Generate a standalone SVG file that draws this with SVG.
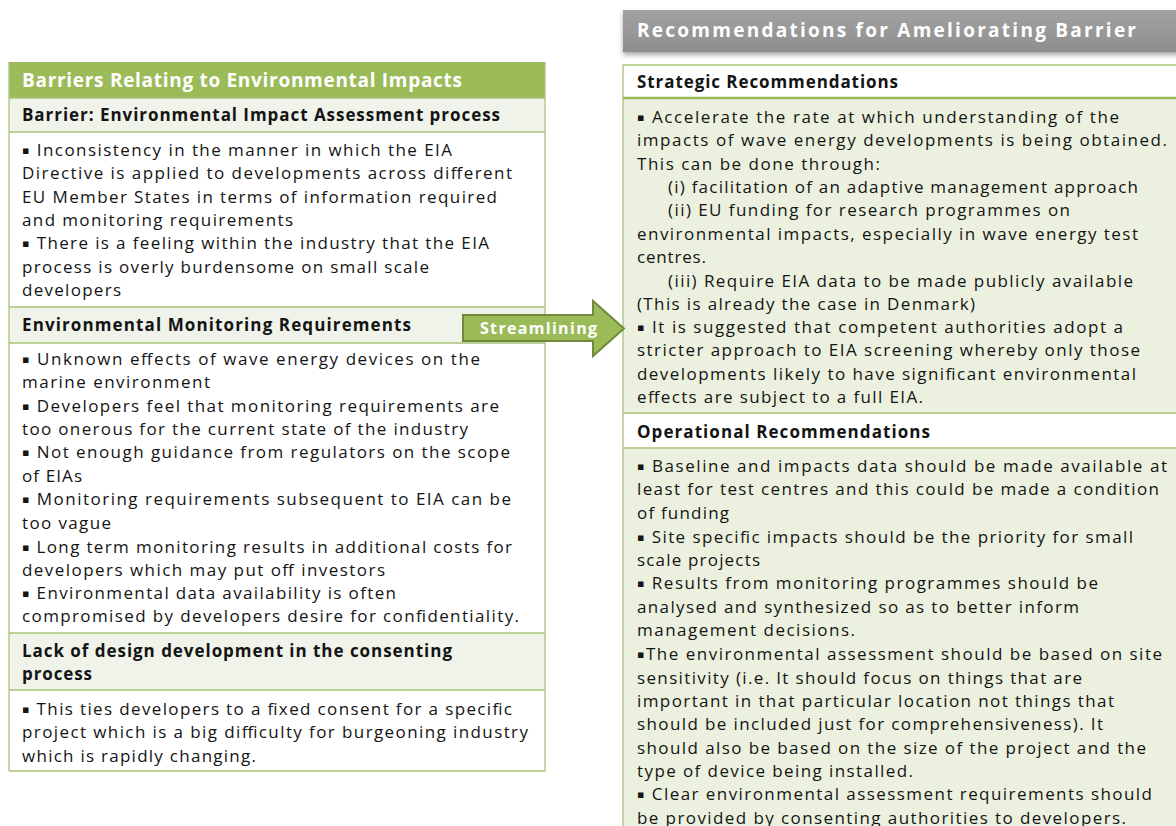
<svg xmlns="http://www.w3.org/2000/svg" width="1176" height="826" viewBox="0 0 1176 826">
<defs>
<style>
.t{font-family:"Open Sans","DejaVu Sans",sans-serif;font-size:17px;fill:#141414}
.b{font-weight:bold}
.u{font-size:11px;baseline-shift:2px}
.h{font-family:"Open Sans","DejaVu Sans",sans-serif;font-size:19px;font-weight:bold;fill:#ffffff}
.ln{stroke:#a9c47a;stroke-width:1.3;fill:none}
.sub{fill:#eff3ea}
.rb{fill:#ebf1de}
</style>
<filter id="sh" x="-5%" y="-30%" width="110%" height="170%">
<feDropShadow dx="0" dy="3" stdDeviation="2.5" flood-color="#000" flood-opacity="0.35"/>
</filter>
<linearGradient id="gg" x1="0" y1="0" x2="0" y2="1">
<stop offset="0" stop-color="#a2a2a2"/>
<stop offset="1" stop-color="#8e8e8e"/>
</linearGradient>
</defs>
<rect width="1176" height="826" fill="#ffffff"/>

<g id="left-header">
<rect x="9" y="62" width="536" height="36" fill="#9bbb59"/>
<text class="h" x="22" y="87" textLength="440" lengthAdjust="spacing">Barriers Relating to Environmental Impacts</text>
</g>

<g id="left-eia-head">
<rect class="sub" x="9" y="98" width="536" height="34"/>
<text class="t b" x="22" y="121" textLength="478" lengthAdjust="spacing">Barrier: Environmental  Impact  Assessment process</text>
</g>
<g id="left-eia-body">
<text class="t" x="22" y="156" textLength="430" lengthAdjust="spacing"><tspan class="u">▪</tspan> Inconsistency in the manner in which the EIA</text>
<text class="t" x="22" y="179" textLength="490" lengthAdjust="spacing">Directive is  applied to developments across different</text>
<text class="t" x="22" y="203" textLength="475" lengthAdjust="spacing">EU Member States in terms of information required</text>
<text class="t" x="22" y="226" textLength="271" lengthAdjust="spacing">and monitoring requirements</text>
<text class="t" x="22" y="249" textLength="467" lengthAdjust="spacing"><tspan class="u">▪</tspan> There is a feeling within the industry that the EIA</text>
<text class="t" x="22" y="273" textLength="407" lengthAdjust="spacing">process is overly burdensome on small scale</text>
<text class="t" x="22" y="296" textLength="99" lengthAdjust="spacing">developers</text>
</g>

<g id="left-monitoring-head">
<rect class="sub" x="9" y="307" width="536" height="36"/>
<text class="t b" x="22" y="331" textLength="389" lengthAdjust="spacing">Environmental Monitoring  Requirements</text>
</g>
<g id="left-monitoring-body">
<text class="t" x="22" y="365" textLength="458" lengthAdjust="spacing"><tspan class="u">▪</tspan> Unknown effects of wave energy devices on the</text>
<text class="t" x="22" y="388" textLength="188" lengthAdjust="spacing">marine environment</text>
<text class="t" x="22" y="412" textLength="477" lengthAdjust="spacing"><tspan class="u">▪</tspan> Developers feel that monitoring requirements are</text>
<text class="t" x="22" y="435" textLength="446" lengthAdjust="spacing">too onerous for the current state of the industry</text>
<text class="t" x="22" y="458" textLength="488" lengthAdjust="spacing"><tspan class="u">▪</tspan> Not enough guidance from regulators on the scope</text>
<text class="t" x="22" y="482" textLength="60" lengthAdjust="spacing">of EIAs</text>
<text class="t" x="22" y="505" textLength="489" lengthAdjust="spacing"><tspan class="u">▪</tspan> Monitoring requirements subsequent to EIA can be</text>
<text class="t" x="22" y="529" textLength="89" lengthAdjust="spacing">too vague</text>
<text class="t" x="22" y="553" textLength="490" lengthAdjust="spacing"><tspan class="u">▪</tspan> Long term monitoring results in additional costs for</text>
<text class="t" x="22" y="576" textLength="363" lengthAdjust="spacing">developers which may put off investors</text>
<text class="t" x="22" y="599" textLength="374" lengthAdjust="spacing"><tspan class="u">▪</tspan> Environmental data availability is often</text>
<text class="t" x="22" y="622" textLength="497" lengthAdjust="spacing">compromised by developers desire for confidentiality.</text>
</g>

<g id="left-design-head">
<rect class="sub" x="9" y="633" width="536" height="57"/>
<text class="t b" x="22" y="657" textLength="430" lengthAdjust="spacing">Lack of design development in the consenting</text>
<text class="t b" x="22" y="680" textLength="70" lengthAdjust="spacing">process</text>
</g>
<g id="left-design-body">
<text class="t" x="22" y="715" textLength="490" lengthAdjust="spacing"><tspan class="u">▪</tspan> This ties developers to a fixed consent for a specific</text>
<text class="t" x="22" y="738" textLength="506" lengthAdjust="spacing">project which is a big difficulty for burgeoning industry</text>
<text class="t" x="22" y="762" textLength="234" lengthAdjust="spacing">which is rapidly changing.</text>
</g>

<g id="left-lines">
<path class="ln" d="M9 62V771M545 62V771M9 98H545M9 132H545M9 307H545M9 343H545M9 633H545M9 690H545M9 771H545"/>
</g>

<g id="right-header">
<rect x="623" y="10" width="560" height="42" fill="url(#gg)" filter="url(#sh)"/>
<text class="h" x="637" y="37" textLength="499" lengthAdjust="spacing">Recommendations for Ameliorating Barrier</text>
</g>

<g id="right-strategic-head">
<rect x="623" y="65" width="553" height="33" fill="#ffffff"/>
<text class="t b" x="637" y="88" textLength="261" lengthAdjust="spacing">Strategic Recommendations</text>
</g>
<g id="right-strategic-body">
<rect class="rb" x="623" y="98" width="553" height="315"/>
<text class="t" x="637" y="123" textLength="482" lengthAdjust="spacing"><tspan class="u">▪</tspan> Accelerate the rate at which  understanding of the</text>
<text class="t" x="637" y="146" textLength="530" lengthAdjust="spacing">impacts of wave energy developments is being obtained.</text>
<text class="t" x="637" y="170" textLength="243" lengthAdjust="spacing">This can be done through:</text>
<text class="t" x="668" y="193" textLength="470" lengthAdjust="spacing">(i) facilitation of an adaptive management approach</text>
<text class="t" x="668" y="216" textLength="402" lengthAdjust="spacing">(ii) EU funding for research programmes on</text>
<text class="t" x="637" y="240" textLength="501" lengthAdjust="spacing">environmental impacts, especially in wave energy test</text>
<text class="t" x="637" y="263" textLength="69" lengthAdjust="spacing">centres.</text>
<text class="t" x="668" y="287" textLength="465" lengthAdjust="spacing">(iii) Require EIA data to be made publicly available</text>
<text class="t" x="637" y="310" textLength="338" lengthAdjust="spacing">(This is already the case in Denmark)</text>
<text class="t" x="637" y="333" textLength="486" lengthAdjust="spacing"><tspan class="u">▪</tspan>  It is suggested that competent authorities adopt a</text>
<text class="t" x="637" y="356" textLength="503" lengthAdjust="spacing">stricter approach to EIA screening whereby only those</text>
<text class="t" x="637" y="380" textLength="499" lengthAdjust="spacing">developments likely to have significant environmental</text>
<text class="t" x="637" y="403" textLength="286" lengthAdjust="spacing">effects are subject to a full EIA.</text>
</g>

<g id="right-operational-head">
<rect x="623" y="413" width="553" height="35" fill="#ffffff"/>
<text class="t b" x="637" y="438" textLength="293" lengthAdjust="spacing">Operational Recommendations</text>
</g>
<g id="right-operational-body">
<rect class="rb" x="623" y="448" width="553" height="378"/>
<text class="t" x="637" y="472" textLength="530" lengthAdjust="spacing"><tspan class="u">▪</tspan>  Baseline and impacts data should be made available at</text>
<text class="t" x="637" y="495" textLength="522" lengthAdjust="spacing">least for test centres and this could be made a condition</text>
<text class="t" x="637" y="519" textLength="92" lengthAdjust="spacing">of funding</text>
<text class="t" x="637" y="543" textLength="496" lengthAdjust="spacing"><tspan class="u">▪</tspan> Site specific impacts should be the priority for small</text>
<text class="t" x="637" y="566" textLength="123" lengthAdjust="spacing">scale projects</text>
<text class="t" x="637" y="589" textLength="461" lengthAdjust="spacing"><tspan class="u">▪</tspan> Results from monitoring programmes should be</text>
<text class="t" x="637" y="613" textLength="442" lengthAdjust="spacing">analysed and synthesized so as to better inform</text>
<text class="t" x="637" y="636" textLength="218" lengthAdjust="spacing">management decisions.</text>
<text class="t" x="637" y="660" textLength="525" lengthAdjust="spacing"><tspan class="u">▪</tspan>The environmental assessment should be based on site</text>
<text class="t" x="637" y="684" textLength="445" lengthAdjust="spacing">sensitivity (i.e. It should focus on things that are</text>
<text class="t" x="637" y="707" textLength="477" lengthAdjust="spacing">important in that particular location not things that</text>
<text class="t" x="637" y="730" textLength="466" lengthAdjust="spacing">should be included just for comprehensiveness).  It</text>
<text class="t" x="637" y="754" textLength="509" lengthAdjust="spacing">should also be based on the size of the project and the</text>
<text class="t" x="637" y="777" textLength="276" lengthAdjust="spacing">type of device being installed.</text>
<text class="t" x="637" y="800" textLength="515" lengthAdjust="spacing"><tspan class="u">▪</tspan> Clear environmental assessment requirements should</text>
<text class="t" x="637" y="824" textLength="489" lengthAdjust="spacing">be provided by consenting authorities to developers.</text>
</g>

<g id="right-lines">
<path class="ln" d="M623 65V826M623 65H1176M623 413H1176M623 448H1176"/>
<path d="M623 98H1176" stroke="#9bbb59" stroke-width="2.5" fill="none"/>
</g>

<g id="connectors">
<path d="M463 315H593V301L624 328.5L593 356V341H463Z" fill="#9bbb59" stroke="#6f8a3a" stroke-width="2" stroke-linejoin="miter"/>
<text class="h" x="480" y="334" style="font-size:16px" textLength="117" lengthAdjust="spacing">Streamlining</text>
</g>
</svg>
